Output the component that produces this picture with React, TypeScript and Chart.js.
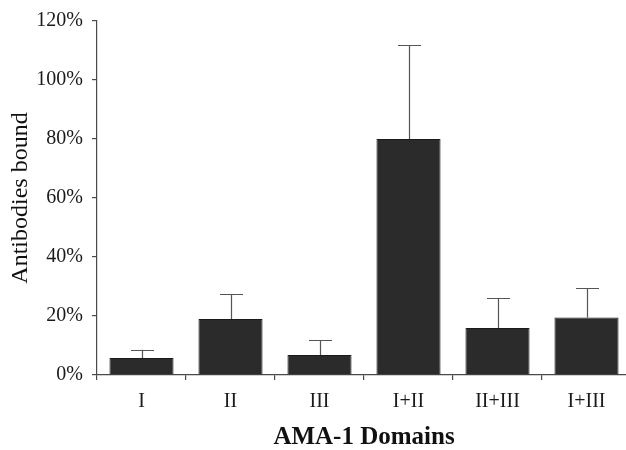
import React, { useEffect, useRef } from "react";
import { Chart, registerables } from "chart.js";

Chart.register(...registerables);

const categories = ["I", "II", "III", "I+II", "II+III", "I+III"];
const meanValues = [5.8, 19.0, 6.8, 80.0, 15.9, 19.5];
const errorValues = [2.8, 8.5, 5.1, 31.8, 10.1, 10.0];
const yTicks = [0, 20, 40, 60, 80, 100, 120];

const FONT = "'Liberation Serif', 'Times New Roman', serif";
const AXIS_COLOR = "#4a4a4a";

const errorBarPlugin = {
  id: "errorBars",
  afterDatasetsDraw(chart: any) {
    const meta = chart.getDatasetMeta(0);
    const yScale = chart.scales.y;
    const ctx = chart.ctx;
    ctx.save();
    ctx.strokeStyle = "#555555";
    ctx.lineWidth = 1.2;
    meta.data.forEach((bar: any, i: number) => {
      const x = Math.round(bar.x) + 0.5;
      const yTop = yScale.getPixelForValue(meanValues[i]);
      const yErr = yScale.getPixelForValue(meanValues[i] + errorValues[i]);
      ctx.beginPath();
      ctx.moveTo(x, yTop);
      ctx.lineTo(x, yErr);
      ctx.moveTo(x - 11.5, Math.round(yErr) + 0.5);
      ctx.lineTo(x + 11.5, Math.round(yErr) + 0.5);
      ctx.stroke();
    });
    ctx.restore();
  },
};

export default function App() {
  const ref = useRef<HTMLCanvasElement | null>(null);

  useEffect(() => {
    if (!ref.current) return;
    const chart = new Chart(ref.current, {
      type: "bar",
      data: {
        labels: categories,
        datasets: [
          {
            data: meanValues,
            backgroundColor: "#2b2b2b",
            borderColor: "#1a1a1a",
            borderWidth: 1,
            barPercentage: 0.8,
            categoryPercentage: 0.9,
          },
        ],
      },
      options: {
        responsive: false,
        animation: false,
        layout: { padding: { top: 19, right: 9, left: 0, bottom: 0 } },
        plugins: {
          legend: { display: false },
          tooltip: { enabled: false },
        },
        scales: {
          x: {
            offset: true,
            grid: {
              display: true,
              offset: true,
              drawOnChartArea: false,
              drawTicks: true,
              tickLength: 5,
              color: AXIS_COLOR,
              lineWidth: 1.2,
            },
            border: { display: true, color: AXIS_COLOR, width: 1.2 },
            ticks: {
              color: "#1a1a1a",
              font: { family: FONT, size: 20 },
              padding: 10,
              maxRotation: 0,
            },
            title: {
              display: true,
              text: "AMA-1 Domains",
              color: "#111111",
              font: { family: FONT, size: 25, weight: "bold" },
              padding: { top: 0, bottom: -3 },
            },
            afterFit(scale: any) {
              scale.height = 75;
            },
          },
          y: {
            min: 0,
            max: 120,
            afterBuildTicks(scale: any) {
              scale.ticks = yTicks.map((v) => ({ value: v }));
            },
            grid: {
              display: true,
              drawOnChartArea: false,
              drawTicks: true,
              tickLength: 5,
              color: AXIS_COLOR,
              lineWidth: 1.2,
            },
            border: { display: true, color: AXIS_COLOR, width: 1.2 },
            ticks: {
              color: "#1a1a1a",
              font: { family: FONT, size: 20 },
              padding: 9,
              callback: (v: any) => v + "%",
            },
            title: {
              display: true,
              text: "Antibodies bound",
              color: "#111111",
              font: { family: FONT, size: 24 },
              padding: { top: 6, bottom: 0 },
            },
            afterFit(scale: any) {
              scale.width = 97;
            },
          },
        },
      },
      plugins: [errorBarPlugin],
    });
    return () => chart.destroy();
  }, []);

  return (
    <div
      style={{
        position: "fixed",
        left: 0,
        top: 0,
        width: 626,
        height: 450,
        overflow: "hidden",
        background: "#ffffff",
      }}
    >
      <canvas ref={ref} width={640} height={450} style={{ display: "block" }} />
    </div>
  );
}
